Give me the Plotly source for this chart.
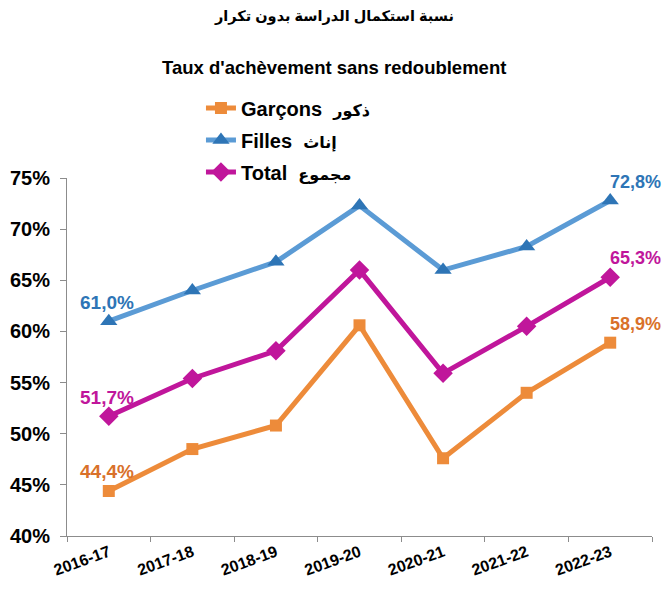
import plotly.graph_objects as go

years = ["2016-17", "2017-18", "2018-19", "2019-20", "2020-21", "2021-22", "2022-23"]
garcons = [44.4, 48.5, 50.8, 60.6, 47.6, 54.0, 58.9]
filles = [61.0, 64.0, 66.8, 72.3, 66.0, 68.3, 72.8]
total = [51.7, 55.4, 58.1, 66.0, 55.9, 60.5, 65.3]
y_ticks = [40, 45, 50, 55, 60, 65, 70, 75]
y_ticktext = [f"{v}%" for v in y_ticks]

FONT = "Arial, Liberation Sans, DejaVu Sans, sans-serif"


def fmt(v):
    return f"{v:.1f}%".replace(".", ",")


series = [
    ("Garçons", "ذكور", garcons, "#ED8B3A", "#ED8B3A", "#D9712A", "square", 12),
    ("Filles", "إناث", filles, "#5B9BD5", "#2E75B6", "#2E75B6", "triangle-up", 15),
    ("Total", "مجموع", total, "#C0169B", "#C0169B", "#C0169B", "diamond", 15),
]

fig = go.Figure()
labels = []
for fr, ar, vals, line_col, mark_col, txt_col, symbol, size in series:
    name = f"{fr}  <span style='font-size:16px'>{ar}</span>"
    fig.add_trace(go.Scatter(
        x=years,
        y=vals,
        name=name,
        legendgroup=fr,
        mode="lines+markers",
        line=dict(color=line_col, width=5),
        marker=dict(color=mark_col, symbol=symbol, size=size),
    ))
    # value labels on the first and last point only
    labels.append(dict(x=years[0], y=vals[0], text=fmt(vals[0]), xref="x", yref="y",
                       xanchor="center", yanchor="middle", xshift=-2, yshift=19,
                       showarrow=False,
                       font=dict(family=FONT, size=19, color=txt_col, weight="bold")))
    labels.append(dict(x=years[-1], y=vals[-1], text=fmt(vals[-1]), xref="x", yref="y",
                       xanchor="left", yanchor="middle", xshift=-2, yshift=19,
                       showarrow=False,
                       font=dict(family=FONT, size=18, color=txt_col, weight="bold")))

# the page body adds an 8px margin; keep the page inside the window (no scrollbars)
fig.update_layout(
    autosize=False,
    width=656,
    height=570,
    margin=dict(l=59, r=12, t=170, b=42, autoexpand=False),
    paper_bgcolor="white",
    plot_bgcolor="white",
    font=dict(family=FONT, color="black"),
    showlegend=True,
    legend=dict(
        x=0.229, y=1.25, xanchor="left", yanchor="top",
        font=dict(family=FONT, size=20, color="black", weight="bold"),
        tracegroupgap=3,
        bgcolor="rgba(0,0,0,0)",
    ),
    xaxis=dict(
        automargin=False,
        range=[-0.5, len(years) - 0.5],  # fixed, so the labels don't widen the axis
        showgrid=False,
        showline=True,
        linecolor="#8C8C8C",
        linewidth=1,
        ticks="outside",
        tickson="boundaries",
        ticklen=5,
        tickcolor="#8C8C8C",
        tickangle=-20,
        tickfont=dict(family=FONT, size=16, color="black", weight="bold"),
    ),
    yaxis=dict(
        automargin=False,
        range=[40, 75],
        tickvals=y_ticks,
        ticktext=y_ticktext,
        showgrid=False,
        zeroline=False,
        showline=True,
        linecolor="#8C8C8C",
        linewidth=1,
        ticks="outside",
        ticklen=6,
        tickcolor="#8C8C8C",
        ticklabelstandoff=6,
        tickfont=dict(family=FONT, size=20, color="black", weight="bold"),
    ),
    annotations=labels + [
        dict(text="نسبة استكمال الدراسة بدون تكرار", xref="paper", yref="paper",
             x=0.456, y=1.45, xanchor="center", yanchor="middle", showarrow=False,
             font=dict(family=FONT, size=14.5, color="black", weight="bold")),
        dict(text="Taux d'achèvement sans redoublement", xref="paper", yref="paper",
             x=0.456, y=1.31, xanchor="center", yanchor="middle", showarrow=False,
             font=dict(family=FONT, size=18.5, color="black", weight="bold")),
    ],
)

fig.write_html("out.html")
